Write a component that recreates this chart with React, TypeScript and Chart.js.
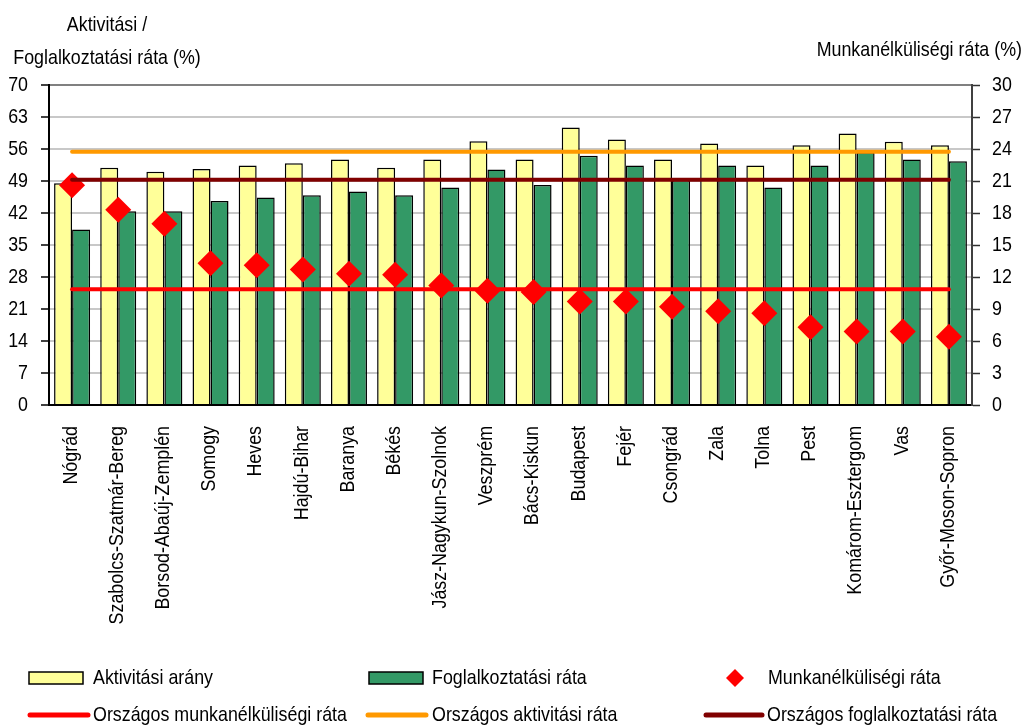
import { useEffect, useRef } from 'react';
import { Chart, registerables } from 'chart.js';

Chart.register(...registerables);

const CATEGORIES = [
  'Nógrád', 'Szabolcs-Szatmár-Bereg', 'Borsod-Abaúj-Zemplén', 'Somogy', 'Heves',
  'Hajdú-Bihar', 'Baranya', 'Békés', 'Jász-Nagykun-Szolnok', 'Veszprém',
  'Bács-Kiskun', 'Budapest', 'Fejér', 'Csongrád', 'Zala', 'Tolna', 'Pest',
  'Komárom-Esztergom', 'Vas', 'Győr-Moson-Sopron',
];
const ACTIVITY = [48.5, 51.9, 51.0, 51.6, 52.4, 52.9, 53.7, 51.9, 53.7, 57.7, 53.7, 60.7, 58.1, 53.7, 57.2, 52.4, 56.8, 59.4, 57.6, 56.8];
const EMPLOYMENT = [38.4, 42.4, 42.4, 44.6, 45.4, 45.9, 46.7, 45.9, 47.6, 51.5, 48.1, 54.5, 52.4, 49.2, 52.4, 47.6, 52.4, 55.3, 53.7, 53.3];
const UNEMPLOYMENT = [20.6, 18.3, 17.0, 13.3, 13.1, 12.7, 12.3, 12.2, 11.2, 10.7, 10.6, 9.7, 9.7, 9.2, 8.8, 8.6, 7.3, 6.9, 6.9, 6.4];
const NATIONAL_ACTIVITY = 55.4;
const NATIONAL_EMPLOYMENT = 49.3;
const NATIONAL_UNEMPLOYMENT = 10.85;

const LEFT_AXIS = { min: 0, max: 70, step: 7 };
const RIGHT_AXIS = { min: 0, max: 30, step: 3 };
const LEFT_TITLE = ['Aktivitási /', 'Foglalkoztatási ráta (%)'];
const RIGHT_TITLE = 'Munkanélküliségi ráta (%)';
const SERIES_NAMES = {
  activity: 'Aktivitási arány',
  employment: 'Foglalkoztatási ráta',
  unemployment: 'Munkanélküliségi ráta',
  natUnemployment: 'Országos munkanélküliségi ráta',
  natActivity: 'Országos aktivitási ráta',
  natEmployment: 'Országos foglalkoztatási ráta',
};

const COLORS = {
  yellow: '#FFFF99',
  green: '#339966',
  red: '#FF0000',
  orange: '#FF9900',
  darkRed: '#800000',
};

const FONT_FAMILY = '"Liberation Sans", Arial, sans-serif';
const FONT_SIZE = 21;
const CONDENSE = 0.85;

export default function App() {
  const ref = useRef<HTMLCanvasElement | null>(null);

  useEffect(() => {
    document.body.style.margin = '0';
    document.body.style.overflow = 'hidden';
    Chart.defaults.font.family = FONT_FAMILY;
    Chart.defaults.font.size = FONT_SIZE;
    Chart.defaults.color = '#000';

    const text = (
      ctx: CanvasRenderingContext2D,
      t: string,
      x: number,
      y: number,
      align: CanvasTextAlign,
      baseline: CanvasTextBaseline,
      rotate = 0,
    ) => {
      ctx.save();
      ctx.translate(x, y);
      if (rotate) ctx.rotate(rotate);
      ctx.scale(CONDENSE, 1);
      ctx.font = `${FONT_SIZE}px ${FONT_FAMILY}`;
      ctx.fillStyle = '#000';
      ctx.textAlign = align;
      ctx.textBaseline = baseline;
      ctx.fillText(t, 0, 0);
      ctx.restore();
    };

    const decor = {
      id: 'decor',
      afterDraw(chart: any) {
        const ctx = chart.ctx as CanvasRenderingContext2D;
        const xs = chart.scales.x;
        const ys = chart.scales.y;
        const y1s = chart.scales.y1;

        // axis tick labels
        for (let v = LEFT_AXIS.min; v <= LEFT_AXIS.max; v += LEFT_AXIS.step) {
          text(ctx, String(v), 28, ys.getPixelForValue(v), 'right', 'middle');
        }
        for (let v = RIGHT_AXIS.min; v <= RIGHT_AXIS.max; v += RIGHT_AXIS.step) {
          text(ctx, String(v), 992, y1s.getPixelForValue(v), 'left', 'middle');
        }
        CATEGORIES.forEach((c, i) => {
          text(ctx, c, xs.getPixelForValue(i) - 1, 426, 'right', 'middle', -Math.PI / 2);
        });

        // titles
        text(ctx, LEFT_TITLE[0], 107, 31, 'center', 'alphabetic');
        text(ctx, LEFT_TITLE[1], 107, 64, 'center', 'alphabetic');
        text(ctx, RIGHT_TITLE, 1022, 56, 'right', 'alphabetic');

        // legend
        ctx.save();
        const row1 = 678, row2 = 715;
        const box = (x: number, color: string) => {
          ctx.fillStyle = color;
          ctx.fillRect(x, row1 - 6, 54, 12);
          ctx.strokeStyle = '#000';
          ctx.lineWidth = 1.5;
          ctx.strokeRect(x, row1 - 6, 54, 12);
        };
        const line = (x1: number, x2: number, color: string) => {
          ctx.strokeStyle = color;
          ctx.lineWidth = 5;
          ctx.lineCap = 'round';
          ctx.beginPath();
          ctx.moveTo(x1, row2);
          ctx.lineTo(x2, row2);
          ctx.stroke();
        };
        box(29, COLORS.yellow);
        box(369, COLORS.green);
        ctx.fillStyle = COLORS.red;
        ctx.beginPath();
        ctx.moveTo(735, row1 - 9);
        ctx.lineTo(744, row1);
        ctx.lineTo(735, row1 + 9);
        ctx.lineTo(726, row1);
        ctx.closePath();
        ctx.fill();
        line(30, 88, COLORS.red);
        line(368, 426, COLORS.orange);
        line(706, 762, COLORS.darkRed);
        ctx.restore();
        text(ctx, SERIES_NAMES.activity, 93, row1 + 6, 'left', 'alphabetic');
        text(ctx, SERIES_NAMES.employment, 432, row1 + 6, 'left', 'alphabetic');
        text(ctx, SERIES_NAMES.unemployment, 768, row1 + 6, 'left', 'alphabetic');
        text(ctx, SERIES_NAMES.natUnemployment, 93, row2 + 6, 'left', 'alphabetic');
        text(ctx, SERIES_NAMES.natActivity, 432, row2 + 6, 'left', 'alphabetic');
        text(ctx, SERIES_NAMES.natEmployment, 767, row2 + 6, 'left', 'alphabetic');
      },
    };

    const chart = new Chart(ref.current as HTMLCanvasElement, {
      type: 'bar',
      data: {
        labels: CATEGORIES,
        datasets: [
          {
            type: 'line',
            label: SERIES_NAMES.natUnemployment,
            data: CATEGORIES.map(() => NATIONAL_UNEMPLOYMENT),
            borderColor: COLORS.red,
            borderWidth: 4,
            borderCapStyle: 'round',
            pointRadius: 0,
            yAxisID: 'y1',
            order: 0,
          },
          {
            type: 'line',
            label: SERIES_NAMES.natActivity,
            data: CATEGORIES.map(() => NATIONAL_ACTIVITY),
            borderColor: COLORS.orange,
            borderWidth: 4,
            borderCapStyle: 'round',
            pointRadius: 0,
            yAxisID: 'y',
            order: 0,
          },
          {
            type: 'line',
            label: SERIES_NAMES.natEmployment,
            data: CATEGORIES.map(() => NATIONAL_EMPLOYMENT),
            borderColor: COLORS.darkRed,
            borderWidth: 4,
            borderCapStyle: 'round',
            pointRadius: 0,
            yAxisID: 'y',
            order: 0,
          },
          {
            type: 'line',
            label: SERIES_NAMES.unemployment,
            data: UNEMPLOYMENT,
            showLine: false,
            pointStyle: 'rectRot',
            pointRadius: 13,
            pointBackgroundColor: COLORS.red,
            pointBorderWidth: 0,
            borderColor: COLORS.red,
            yAxisID: 'y1',
            order: 1,
          },
          {
            type: 'bar',
            label: SERIES_NAMES.activity,
            data: ACTIVITY,
            backgroundColor: COLORS.yellow,
            borderColor: '#000',
            borderWidth: 1.5,
            categoryPercentage: 0.78,
            barPercentage: 1,
            yAxisID: 'y',
            order: 2,
          },
          {
            type: 'bar',
            label: SERIES_NAMES.employment,
            data: EMPLOYMENT,
            backgroundColor: COLORS.green,
            borderColor: '#000',
            borderWidth: 1.5,
            categoryPercentage: 0.78,
            barPercentage: 1,
            yAxisID: 'y',
            order: 2,
          },
        ] as any,
      },
      plugins: [decor],
      options: {
        animation: false,
        responsive: true,
        maintainAspectRatio: false,
        layout: { padding: { top: 85, left: 0, right: 0, bottom: 0 } },
        plugins: { legend: { display: false }, tooltip: { enabled: false } },
        scales: {
          x: {
            grid: { display: true, drawOnChartArea: false, drawTicks: false },
            border: { color: '#000', width: 2 },
            ticks: { display: false, autoSkip: false },
            afterFit: (s: any) => { s.height = 726 - 405; },
          },
          y: {
            position: 'left',
            min: LEFT_AXIS.min,
            max: LEFT_AXIS.max,
            ticks: { stepSize: LEFT_AXIS.step, display: false },
            grid: {
              color: (c: any) => (c.tick && c.tick.value === LEFT_AXIS.max ? '#808080' : c.tick && c.tick.value === 0 ? 'rgba(0,0,0,0)' : '#C8C8C8'),
              lineWidth: 2,
              tickColor: '#000',
              tickWidth: 1.5,
              tickLength: 8,
            },
            border: { color: '#000', width: 2 },
            afterFit: (s: any) => { s.width = 49; },
          },
          y1: {
            position: 'right',
            min: RIGHT_AXIS.min,
            max: RIGHT_AXIS.max,
            ticks: { stepSize: RIGHT_AXIS.step, display: false },
            grid: { drawOnChartArea: false, tickColor: '#303030', tickWidth: 1.5, tickLength: 8 },
            border: { color: '#404040', width: 2 },
            afterFit: (s: any) => { s.width = 1028 - 972; },
          },
        },
      } as any,
    });
    return () => chart.destroy();
  }, []);

  return (
    <div style={{ width: 1028, height: 726, position: 'relative' }}>
      <canvas ref={ref} />
    </div>
  );
}
